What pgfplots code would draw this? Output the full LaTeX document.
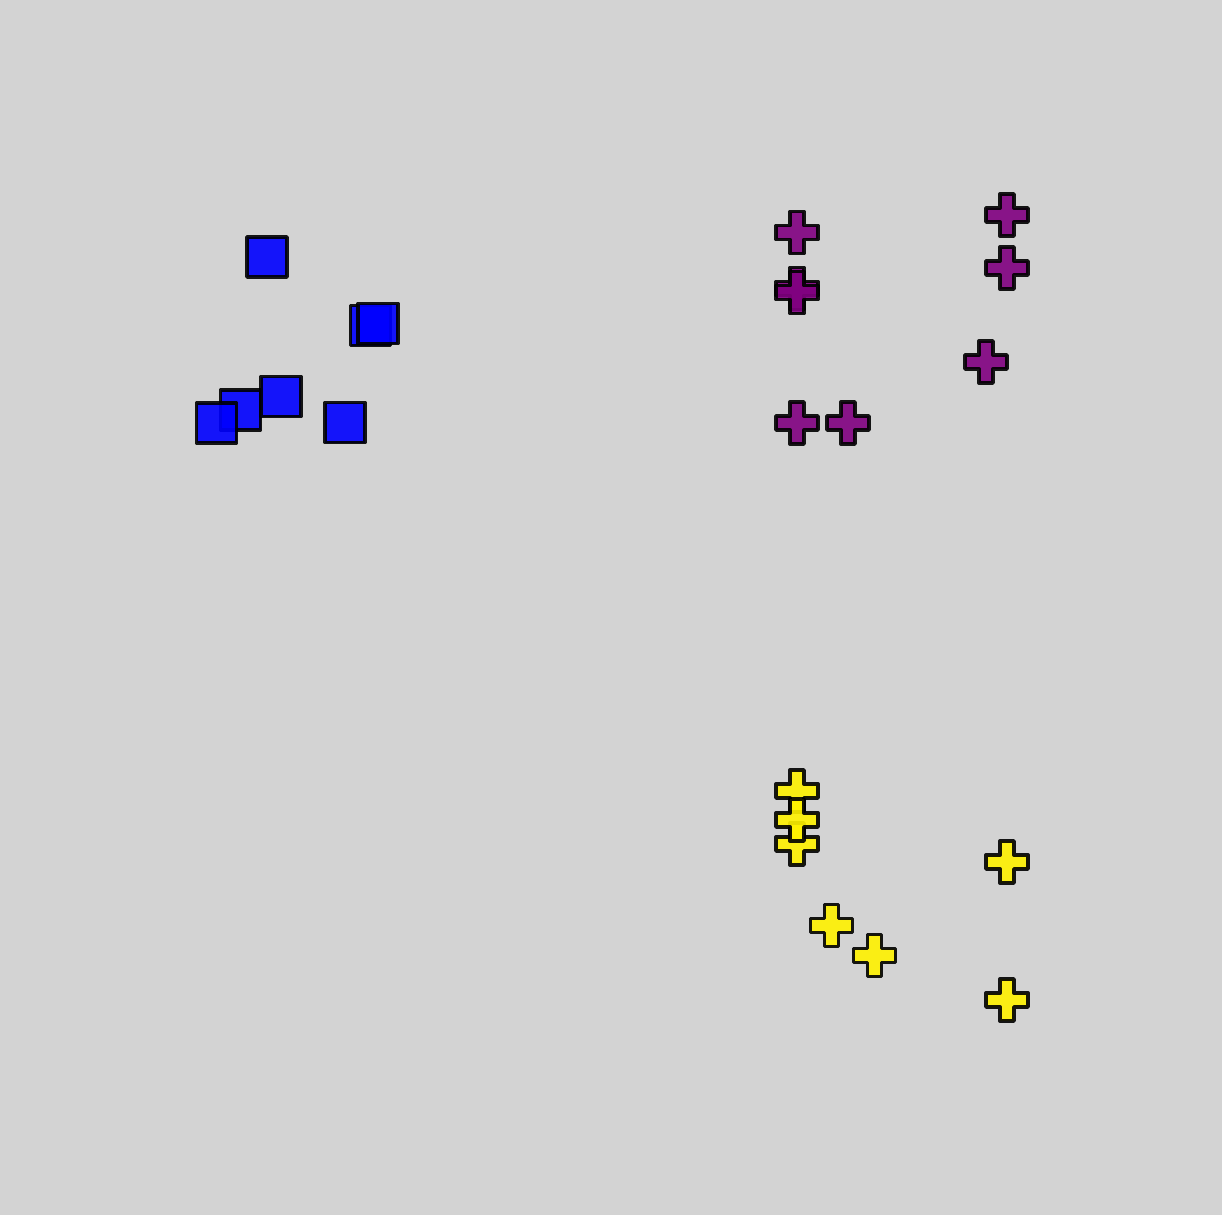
\documentclass[border=0pt]{standalone}
\usepackage{pgfplots}
\pgfplotsset{compat=1.18}
\definecolor{bg}{RGB}{211,211,211}
\definecolor{mypurple}{RGB}{128,0,128}
\pgfdeclareplotmark{fatplus}{%
  \pgfpathmoveto{\pgfpoint{0.33\pgfplotmarksize}{\pgfplotmarksize}}%
  \pgfpathlineto{\pgfpoint{0.33\pgfplotmarksize}{0.33\pgfplotmarksize}}%
  \pgfpathlineto{\pgfpoint{\pgfplotmarksize}{0.33\pgfplotmarksize}}%
  \pgfpathlineto{\pgfpoint{\pgfplotmarksize}{-0.33\pgfplotmarksize}}%
  \pgfpathlineto{\pgfpoint{0.33\pgfplotmarksize}{-0.33\pgfplotmarksize}}%
  \pgfpathlineto{\pgfpoint{0.33\pgfplotmarksize}{-\pgfplotmarksize}}%
  \pgfpathlineto{\pgfpoint{-0.33\pgfplotmarksize}{-\pgfplotmarksize}}%
  \pgfpathlineto{\pgfpoint{-0.33\pgfplotmarksize}{-0.33\pgfplotmarksize}}%
  \pgfpathlineto{\pgfpoint{-\pgfplotmarksize}{-0.33\pgfplotmarksize}}%
  \pgfpathlineto{\pgfpoint{-\pgfplotmarksize}{0.33\pgfplotmarksize}}%
  \pgfpathlineto{\pgfpoint{-0.33\pgfplotmarksize}{0.33\pgfplotmarksize}}%
  \pgfpathlineto{\pgfpoint{-0.33\pgfplotmarksize}{\pgfplotmarksize}}%
  \pgfpathclose
  \pgfusepathqfillstroke
}
\begin{document}
\begin{tikzpicture}
\begin{axis}[scale only axis, width=12.22cm, height=12.15cm,
  xmin=0, xmax=1222, ymin=0, ymax=1215, y dir=reverse,
  hide axis, clip=false]
\fill[bg] (axis cs:0,0) rectangle (axis cs:1222,1215);
\addplot[only marks, mark=square*, mark size=2.0mm,
  mark options={fill=blue, draw=black, opacity=0.9, line width=1.05pt, line join=round}]
  coordinates {(240.5,410) (281,396.5) (216.5,423) (345,422.5) (267,257) (370.5,325.5) (378,323.5)};
\addplot[only marks, mark=fatplus, mark size=2.1mm,
  mark options={fill=mypurple, draw=black, opacity=0.9, line width=1.05pt, line join=round}]
  coordinates {(797,232.5) (797,288.5) (797,292.5) (1007,215) (1007,268) (986,362) (797,423) (848,423)};
\addplot[only marks, mark=fatplus, mark size=2.1mm,
  mark options={fill=yellow, draw=black, opacity=0.9, line width=1.05pt, line join=round}]
  coordinates {(797,791) (797,844) (797,820) (1007,862) (831.5,925.5) (874.5,955.5) (1007,1000)};
\end{axis}
\end{tikzpicture}
\end{document}
